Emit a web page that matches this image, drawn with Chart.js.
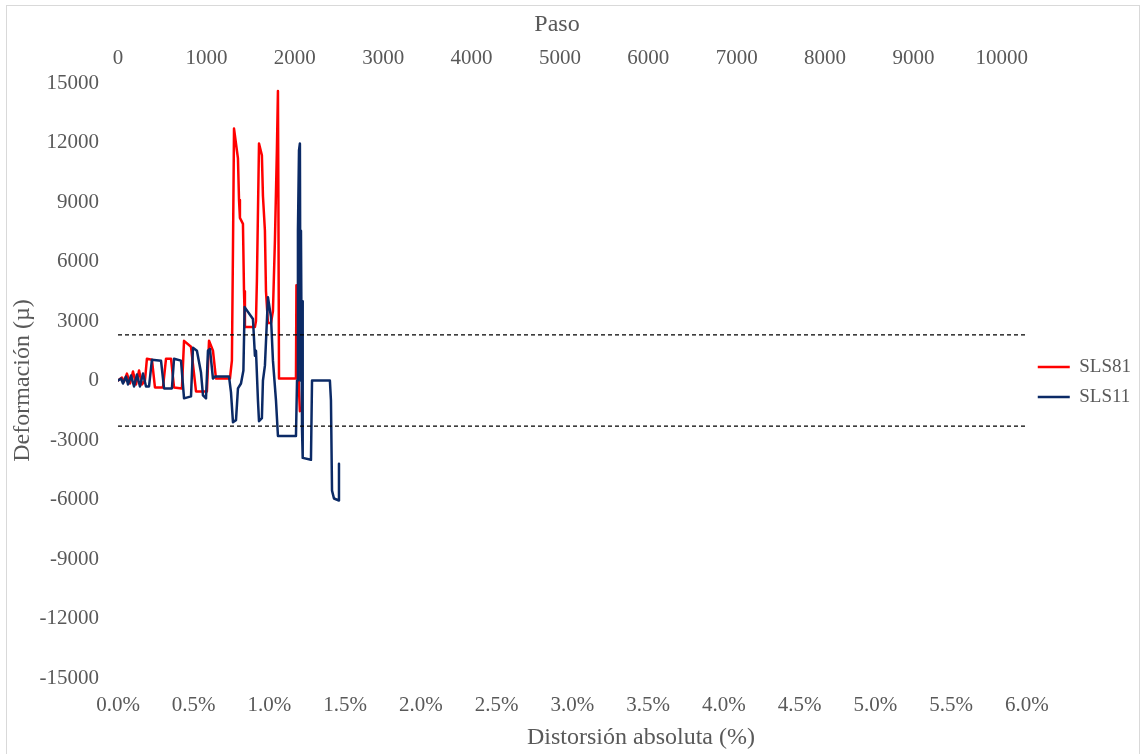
<!DOCTYPE html>
<html><head><meta charset="utf-8">
<script src="https://cdn.jsdelivr.net/npm/chart.js@4.4.1/dist/chart.umd.min.js"></script>
<style>
html,body{margin:0;padding:0;background:#fff;overflow:hidden;}
#frame{position:absolute;left:6px;top:5px;width:1134px;height:760px;border:1px solid #d9d9d9;box-sizing:border-box;}
#wrap{position:absolute;left:0;top:0;width:1141px;height:754px;}
</style></head><body>
<div id="frame"></div>
<div id="wrap"><canvas id="c" width="1141" height="754"></canvas></div>
<script>
// ---- Data (distortion in %, strain in micro-strain) ----
const seriesNames = ["SLS81", "SLS11"];
const sls81Distortion = [0.000,0.026,0.040,0.059,0.079,0.099,0.119,0.139,0.158,0.178,0.191,0.224,0.244,0.297,0.317,0.350,0.370,0.422,0.436,0.482,0.515,0.587,0.601,0.627,0.647,0.739,0.752,0.759,0.766,0.792,0.799,0.805,0.825,0.832,0.838,0.904,0.911,0.917,0.931,0.950,0.957,0.970,0.977,0.990,1.010,1.023,1.036,1.049,1.056,1.059,1.063,1.175,1.178,1.188,1.195,1.201];
const sls81Strain     = [0,150,-50,350,-150,450,-200,500,-200,0,1100,1050,-350,-350,1100,1100,-350,-400,2000,1700,-550,-550,2000,1500,100,100,1000,6550,12700,11200,9100,8200,7900,4500,2700,2700,3000,5000,11950,11350,9300,7550,4500,2900,2900,3500,7050,11600,14600,9100,100,100,4800,1500,-500,-1550];
const sls11Distortion = [0.000,0.020,0.033,0.053,0.066,0.086,0.106,0.125,0.145,0.165,0.185,0.205,0.224,0.284,0.304,0.356,0.370,0.416,0.436,0.482,0.495,0.521,0.548,0.561,0.581,0.594,0.607,0.627,0.640,0.733,0.746,0.759,0.779,0.792,0.812,0.828,0.836,0.891,0.904,0.911,0.924,0.931,0.950,0.957,0.970,0.990,1.010,1.023,1.043,1.056,1.175,1.182,1.188,1.195,1.201,1.205,1.208,1.215,1.218,1.221,1.274,1.281,1.399,1.406,1.413,1.426,1.459,1.459];
const sls11Strain     = [0,100,-150,200,-200,250,-300,300,-300,350,-300,-300,1050,1000,-400,-400,1100,1000,-900,-800,1650,1500,400,-750,-900,1500,1600,100,200,200,-600,-2100,-2000,-400,-150,500,3700,3100,1250,1500,-1000,-2050,-1900,0,750,4200,3200,1000,-1000,-2800,-2800,0,7550,11600,11950,0,7550,-2500,4000,-3900,-4000,0,0,-1000,-5550,-5950,-6050,-4200];
const limitStrain = [2300, -2300];
const limitDistortion = [0, 6];
const pasoTicks = [0, 1000, 2000, 3000, 4000, 5000, 6000, 7000, 8000, 9000, 10000];
const pasoMin = 0, pasoMax = 10283;
const distMin = 0, distMax = 6, distStep = 0.5;
const strainMin = -15000, strainMax = 15000, strainStep = 3000;
const titleX = "Distorsión absoluta (%)";
const titleX2 = "Paso";
const titleY = "Deformación (µ)";

const toPts = (xs, ys) => xs.map((x, i) => ({x: x, y: ys[i]}));
const FONT = "'Liberation Serif','Times New Roman',serif";
const GREY = "#595959";

const xTitlesPlugin = {
  id: 'xTitles',
  afterDraw(chart) {
    const ctx = chart.ctx;
    ctx.save();
    ctx.fillStyle = GREY;
    ctx.font = "24px " + FONT;
    ctx.textAlign = 'center';
    ctx.textBaseline = 'middle';
    ctx.fillText(titleX2, 557, 25);
    ctx.fillText(titleX, 641, 738);
    ctx.restore();
  }
};

new Chart(document.getElementById('c'), {
  type: 'scatter',
  data: {
    datasets: [
      {label: seriesNames[0], order: 2, data: toPts(sls81Distortion, sls81Strain), showLine: true, borderColor: '#FF0000', backgroundColor: '#FF0000', borderWidth: 2.5, borderJoinStyle: 'round', borderCapStyle: 'round', pointRadius: 0, tension: 0, xAxisID: 'x', yAxisID: 'y'},
      {label: seriesNames[1], order: 1, data: toPts(sls11Distortion, sls11Strain), showLine: true, borderColor: '#0B2A66', backgroundColor: '#0B2A66', borderWidth: 2.5, borderJoinStyle: 'round', borderCapStyle: 'round', pointRadius: 0, tension: 0, xAxisID: 'x', yAxisID: 'y'},
      {label: 'lim+', order: 0, data: toPts(limitDistortion, [limitStrain[0], limitStrain[0]]), showLine: true, borderColor: '#000', borderWidth: 1.4, borderDash: [4,3], pointRadius: 0, xAxisID: 'x', yAxisID: 'y'},
      {label: 'lim-', order: 0, data: toPts(limitDistortion, [limitStrain[1], limitStrain[1]]), showLine: true, borderColor: '#000', borderWidth: 1.4, borderDash: [4,3], pointRadius: 0, xAxisID: 'x', yAxisID: 'y'}
    ]
  },
  options: {
    responsive: false,
    animation: false,
    devicePixelRatio: 1,
    layout: {padding: {top: 10, left: 0, right: 0, bottom: 0}},
    plugins: {
      tooltip: {enabled: false},
      legend: {
        position: 'right',
        labels: {
          filter: (item) => item.datasetIndex < 2,
          sort: (a, b) => a.datasetIndex - b.datasetIndex,
          usePointStyle: true, pointStyle: 'line', pointStyleWidth: 32,
          font: {family: FONT, size: 19}, color: GREY, padding: 11
        }
      }
    },
    scales: {
      x: {
        type: 'linear', position: 'bottom', min: distMin, max: distMax,
        grid: {display: false, drawTicks: false}, border: {display: false},
        ticks: {stepSize: distStep, padding: 15, color: GREY, font: {family: FONT, size: 21}, maxRotation: 0, autoSkip: false,
          callback: (v) => Number(v).toFixed(1) + '%'},
        afterFit: (s) => { s.height = 76; }
      },
      x2: {
        type: 'linear', position: 'top', min: pasoMin, max: pasoMax,
        grid: {display: false, drawTicks: false}, border: {display: false},
        ticks: {padding: 12, color: GREY, font: {family: FONT, size: 21}, maxRotation: 0, autoSkip: false,
          callback: (v) => String(v)},
        afterBuildTicks: (s) => { s.ticks = pasoTicks.map(v => ({value: v})); },
        afterFit: (s) => { s.height = 73; }
      },
      y: {
        type: 'linear', position: 'left', min: strainMin, max: strainMax,
        grid: {display: false, drawTicks: false}, border: {display: false},
        ticks: {stepSize: strainStep, padding: 19, color: GREY, font: {family: FONT, size: 21}, autoSkip: false,
          callback: (v) => String(v)},
        title: {display: true, text: titleY, color: GREY, font: {family: FONT, size: 24}, padding: {top: 8, bottom: 0}},
        afterFit: (s) => { s.width = 118; }
      }
    }
  },
  plugins: [xTitlesPlugin]
});
</script>
</body></html>
